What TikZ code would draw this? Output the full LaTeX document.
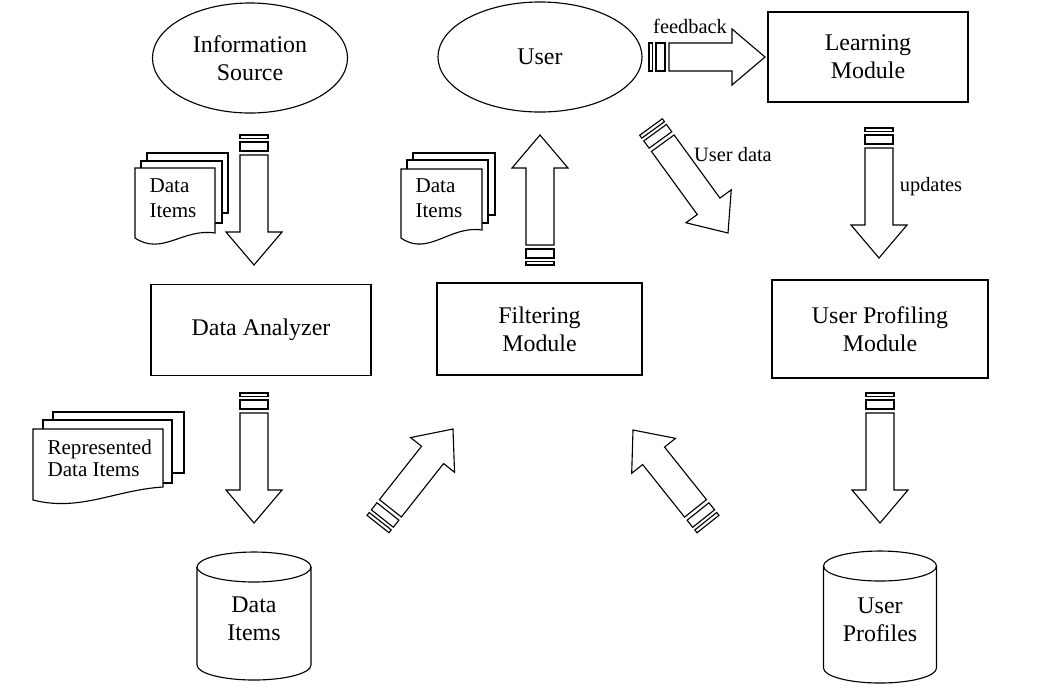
\documentclass[tikz,border=0pt]{standalone}
\usepackage{fontspec}
\setmainfont{Liberation Serif}
\usetikzlibrary{calc,shapes.geometric}

\tikzset{
  module/.style={draw, align=center, inner sep=0pt},
  oval/.style={draw, ellipse, align=center, inner sep=0pt, minimum height=2.75cm},
  doctext/.style={align=left, anchor=west, inner sep=0pt, font=\fontsize{15}{17.5}\selectfont},
  lbl/.style={inner sep=0pt, font=\fontsize{14.5}{16}\selectfont},
  page/.style={draw, fill=white},
}

% fat arrow with striped tail, from tail (#1) to tip (#2)
\newcommand{\fatarrow}[2]{%
  \draw[fill=white] ($(#1)!0.5cm!(#2)!0.35cm!90:(#2)$)
    -- ($(#2)!0.825cm!(#1)!0.35cm!-90:(#1)$)
    -- ($(#2)!0.825cm!(#1)!0.7cm!-90:(#1)$)
    -- (#2)
    -- ($(#2)!0.825cm!(#1)!0.7cm!90:(#1)$)
    -- ($(#2)!0.825cm!(#1)!0.35cm!90:(#1)$)
    -- ($(#1)!0.5cm!(#2)!0.35cm!-90:(#2)$) -- cycle;
  \draw ($(#1)!0.35cm!90:(#2)$) -- ($(#1)!0.35cm!-90:(#2)$)
    -- ($(#1)!0.09cm!(#2)!0.35cm!-90:(#2)$) -- ($(#1)!0.09cm!(#2)!0.35cm!90:(#2)$) -- cycle;
  \draw ($(#1)!0.175cm!(#2)!0.35cm!90:(#2)$) -- ($(#1)!0.175cm!(#2)!0.35cm!-90:(#2)$)
    -- ($(#1)!0.4cm!(#2)!0.35cm!-90:(#2)$) -- ($(#1)!0.4cm!(#2)!0.35cm!90:(#2)$) -- cycle;
}

\begin{document}
\begin{tikzpicture}[x=0.025cm, y=-0.025cm, line width=0.8pt, font=\fontsize{17}{20}\selectfont]
    \fill[white] (0,0) rectangle (1063,687);
    \useasboundingbox (0,0) rectangle (1063,687);

    \node[oval, minimum width=4.875cm] (source) at (250,58) {Information\\Source};
    \node[oval, minimum width=5.1cm] (user) at (540,57) {User};
    \node[module, minimum width=5cm, minimum height=2.25cm] (learning) at (868,57) {Learning\\Module};
    \node[module, minimum width=5.5cm, minimum height=2.275cm] (analyzer) at (261,330) {Data Analyzer};
    \node[module, minimum width=5.125cm, minimum height=2.3cm] (filtering) at (539.5,329) {Filtering\\Module};
    \node[module, minimum width=5.4cm, minimum height=2.45cm] (profiling) at (880,329) {User Profiling\\Module};

    % stores
    \draw (197,567) -- (197,665) arc (180:0:57 and 15) -- (311,567);
    \draw (254,567) ellipse (57 and 15);
    \node[align=center] (items) at (254,619) {Data\\Items};
    \draw (823.5,566) -- (823.5,668) arc (180:0:56.5 and 15) -- (936.5,566);
    \draw (880,566) ellipse (56.5 and 15);
    \node[align=center] (profiles) at (880,620) {User\\Profiles};

    % document stacks
    \draw[page] (147,153) rectangle (228,213);
    \draw[page] (141,161) rectangle (222,223);
    \draw[page] (135,168) -- (215,168) -- (215,233) .. controls (183,228) and (162,256) .. (135,238) -- cycle;
    \node[doctext] (docs1) at (149,198) {Data\\Items};
    \draw[page] (413,153) rectangle (495,215);
    \draw[page] (407,160) rectangle (488,223);
    \draw[page] (401,169) -- (482,169) -- (482,230) .. controls (450,225) and (428,257) .. (401,238) -- cycle;
    \node[doctext] (docs2) at (415,198) {Data\\Items};
    \draw[page] (53,412) rectangle (184,473);
    \draw[page] (43,420) rectangle (172,483);
    \draw[page] (33,429) -- (163,429) -- (163,487) .. controls (115,490) and (80,512) .. (33,500) -- cycle;
    \node[doctext, font=\fontsize{15}{15.5}\selectfont] (docs3) at (47,458) {Represented\\Data Items};

    % arrows
    \coordinate (srcA) at (254,135);  \coordinate (srcB) at (254,265);
    \coordinate (filA) at (540,265);  \coordinate (filB) at (540,135);
    \coordinate (fbA)  at (649,57);   \coordinate (fbB)  at (765,57);
    \coordinate (udA)  at (651,127);  \coordinate (udB)  at (728,233);
    \coordinate (lrnA) at (879,128);  \coordinate (lrnB) at (879,258);
    \coordinate (anaA) at (254,393);  \coordinate (anaB) at (254,523);
    \coordinate (proA) at (880,393);  \coordinate (proB) at (880,523);
    \coordinate (itmA) at (378,524);  \coordinate (itmB) at (453,429);
    \coordinate (pflA) at (708,524);  \coordinate (pflB) at (633,430);
    \fatarrow{srcA}{srcB}
    \fatarrow{filA}{filB}
    \fatarrow{fbA}{fbB}
    \fatarrow{udA}{udB}
    \fatarrow{lrnA}{lrnB}
    \fatarrow{anaA}{anaB}
    \fatarrow{proA}{proB}
    \fatarrow{itmA}{itmB}
    \fatarrow{pflA}{pflB}

    \node[lbl] (feedback) at (690,26) {feedback};
    \node[lbl] (userdata) at (733,155) {User data};
    \node[lbl] (updates) at (931,187) {updates};
\end{tikzpicture}
\end{document}
